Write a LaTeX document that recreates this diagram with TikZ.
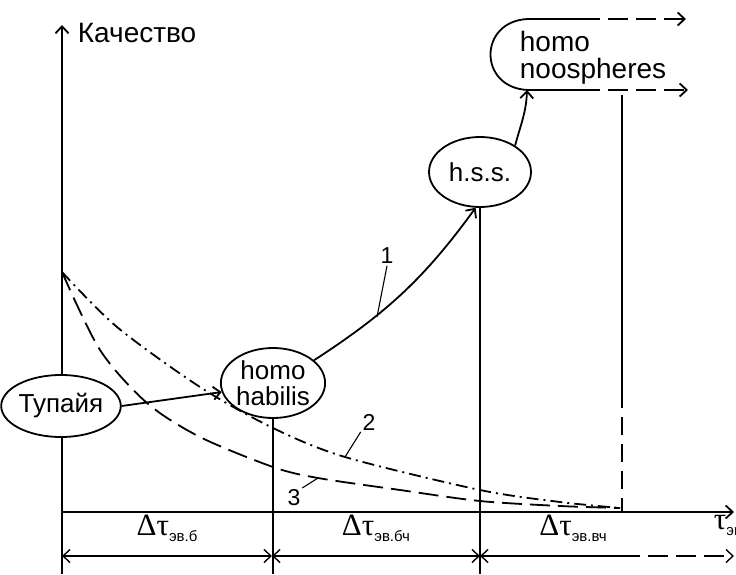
\documentclass[tikz,border=0pt]{standalone}
\usepackage{fontspec}
\setmainfont{Liberation Sans}
\newfontfamily\grk{Liberation Serif}
\usetikzlibrary{arrows.meta,shapes.geometric}
\newcommand{\dtau}[1]{{\grk\fontsize{31}{31}\selectfont Δτ}\raisebox{-6pt}{\fontsize{15}{15}\selectfont #1}}

\begin{document}
\begin{tikzpicture}[x=1pt,y=1pt,>={Straight Barb[length=7pt,width=13pt]},line width=1.8pt,
 stage/.style={draw,ellipse,fill=white,inner sep=0pt,align=center,font=\fontsize{26}{26}\selectfont},
 num/.style={font=\fontsize{23}{23}\selectfont,inner sep=1pt},
 lbl/.style={font=\fontsize{28}{28}\selectfont,inner sep=0pt},
 lead/.style={line width=1.1pt},
 longdash/.style={dash pattern=on 20pt off 8pt},
 dashdot/.style={dash pattern=on 12pt off 5pt on 2pt off 5pt}]
\useasboundingbox (0,0) rectangle (736,574);
% axes
\coordinate (o) at (62,62);
\draw[->] (62,0) -- (62,549);
\node[lbl,anchor=west] (qual) at (77,541) {Качество};
\draw[->] (o) -- (734,62);
\node[anchor=west,inner sep=0pt] (tau) at (713,49) {{\grk\fontsize{31}{31}\selectfont τ}\raisebox{-6pt}{\fontsize{15}{15}\selectfont эв}};
% stages
\node[stage,minimum width=105pt,minimum height=62pt] (tupaya) at (61,168) {Тупайя};
\node[stage,minimum width=103pt,minimum height=70pt] (habilis) at (273,191) {homo\\habilis};
\node[stage,minimum width=102pt,minimum height=70pt] (hss) at (480,402) {h.s.s.};
\node[align=left,anchor=west,inner sep=0pt,font=\fontsize{28}{27}\selectfont] (noo) at (519,516) {homo\\noospheres};
\coordinate (nt) at (580,555); \coordinate (nb) at (580,484); \coordinate (nin) at (527,484);
\draw (nt) -- (528,555) .. controls (478,553) and (478,486) .. (528,484) -- (nb);
\draw[->,longdash] (nt) -- (686,555);
\draw[->,longdash] (nb) -- (688,484);
% verticals
\draw (habilis.south) -- (habilis.south |- 0,0);
\draw (hss.south) -- (hss.south |- 0,0);
\coordinate (v1) at (622,479); \coordinate (v2) at (622,184);
\draw (v1) -- (v2);
\draw[dash pattern=on 18pt off 9pt] (v2) -- (622,62);
% transitions
\draw[->] (tupaya.east) -- (habilis.190);
\draw[->] (habilis.29) to[out=33,in=234] (hss.263);
\draw[->] (hss.37) to[out=75,in=-92] (nin);
% decline curves
\draw[dashdot] plot[smooth] coordinates {(62,302) (117,247) (200,187) (273,146) (345,117) (480,84) (560,72) (620,66)};
\draw[longdash] plot[smooth] coordinates {(62,302) (100,224) (147,171) (200,137) (273,107) (318,96) (400,84) (480,73) (560,68) (620,66)};
% curve numbers
\node[num] (n1) at (387,318) {1}; \coordinate (c1) at (377,257);
\node[num] (n2) at (369,152) {2}; \coordinate (c2) at (345,117);
\node[num] (n3) at (294,76) {3};  \coordinate (c3) at (318,96);
\draw[lead] (n1.south) -- (c1);
\draw[lead] (n2.south west) -- (c2);
\draw[lead] (n3.north east) -- (c3);
% intervals
\coordinate (d0) at (62,18); \coordinate (d1) at (272,18);
\coordinate (d2) at (480,18); \coordinate (d3) at (620,18); \coordinate (d4) at (734,18);
\draw[<->,line width=1.4pt] (d0) -- (d1);
\draw[<->,line width=1.4pt] (d1) -- (d2);
\draw[<-,line width=1.4pt] (d2) -- (d3);
\draw[->,line width=1.4pt,longdash] (d3) -- (d4);
\node (dt1) at (167,46) {\dtau{эв.б}};
\node (dt2) at (376,46) {\dtau{эв.бч}};
\node (dt3) at (573,46) {\dtau{эв.вч}};
\end{tikzpicture}
\end{document}
